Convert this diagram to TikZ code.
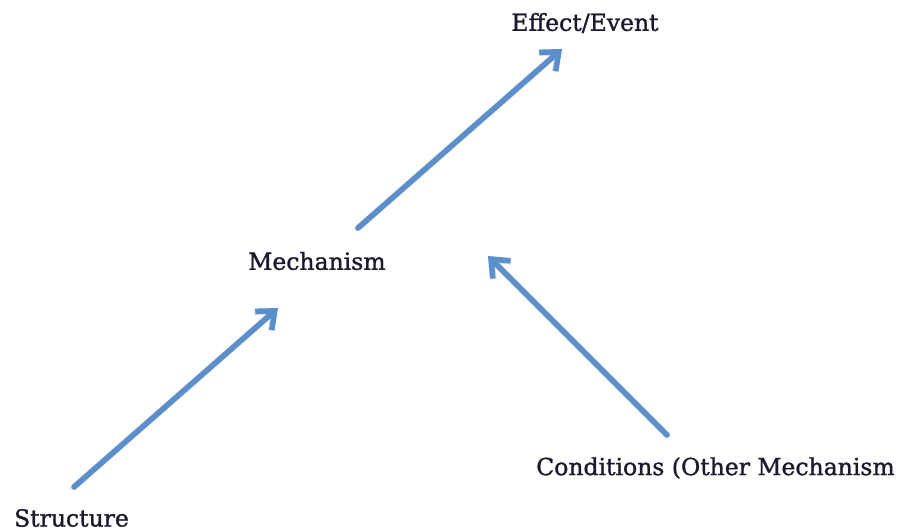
\documentclass[tikz,border=0pt]{standalone}
\usepackage{fontspec}
\setmainfont{DejaVu Serif}
\newfontfamily\labelfont[FakeBold=1.2]{DejaVu Serif}
\usetikzlibrary{arrows.meta}
\definecolor{arrowblue}{HTML}{5B8FCB}
\definecolor{labelink}{HTML}{1A1A2E}
\begin{document}
\begin{tikzpicture}[x=1pt,y=-1pt,
  lbl/.style={text=labelink,font=\labelfont\fontsize{23.5}{27}\selectfont,inner sep=0pt},
  link/.style={draw=arrowblue,line width=5.5pt,line cap=round,
    -{Straight Barb[length=15pt,width=25pt,line width=5.5pt]}},
  linkshade/.style={draw=black,opacity=0.12,line width=6.5pt,line cap=round,
    -{Straight Barb[length=15pt,width=25pt,line width=6.5pt]}}]
\useasboundingbox (0,0) rectangle (905,531);
% labels
\node[lbl] (effect) at (585,23) {Effect/Event};
\node[lbl] (mech) at (317,261) {Mechanism};
\node[lbl] (struct) at (71.5,518) {Structure};
\node[lbl] (cond) at (715.5,468) {Conditions (Other Mechanism};
% arrow end points
\coordinate (s1) at (74,487);
\coordinate (m1) at (278,308);
\coordinate (m2) at (358,228);
\coordinate (e1) at (562,49);
\coordinate (c1) at (667,435);
\coordinate (m3) at (488,256);
% soft shadows
\begin{scope}[shift={(2,2)}]
\draw[linkshade] (s1) -- (m1);
\draw[linkshade] (m2) -- (e1);
\draw[linkshade] (c1) -- (m3);
\end{scope}
% arrows
\draw[link] (s1) -- (m1);
\draw[link] (m2) -- (e1);
\draw[link] (c1) -- (m3);
\end{tikzpicture}
\end{document}
